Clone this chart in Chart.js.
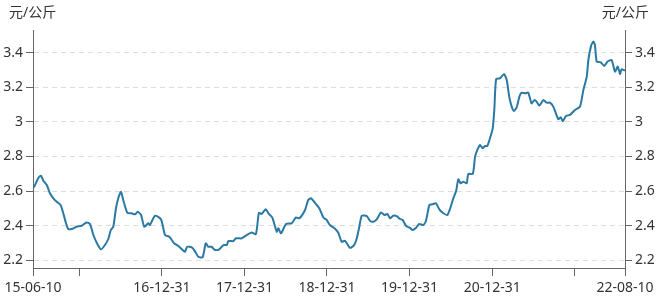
<!DOCTYPE html>
<html>
<head>
<meta charset="utf-8">
<script src="https://cdn.jsdelivr.net/npm/chart.js@4"></script>
<style>
  html, body { margin: 0; padding: 0; background: #fff; }
  #wrap { position: relative; width: 666px; height: 302px; }
</style>
</head>
<body>
<div id="wrap"><canvas id="chart"></canvas></div>
<script>
const UNIT = "元/公斤";
const LINE_COLOR = "#2b79a3";
const FONT = '"Noto Sans", "Noto Sans CJK SC", sans-serif';

// days since 2015-06-10
const dayOffsets = [
  0, 9, 23, 35, 46, 61, 75, 90, 105, 122, 134, 146, 156, 171, 193, 215, 237, 252, 267, 282,
  301, 318, 333, 344, 355, 367, 377, 389, 399, 417, 436, 451, 463, 478, 492, 510, 517, 540, 566, 584,
  603, 624, 643, 665, 672, 682, 702, 716, 731, 750, 764, 775, 790, 805, 824, 842, 857, 864, 886, 898,
  923, 945, 967, 986, 999, 1011, 1029, 1041, 1058, 1078, 1085, 1097, 1119, 1144, 1163, 1178, 1203, 1217, 1229, 1247,
  1266, 1284, 1299, 1313, 1331, 1350, 1365, 1380, 1402, 1420, 1432, 1443, 1454, 1476, 1490, 1505, 1520, 1539, 1554, 1567,
  1579, 1593, 1608, 1623, 1635, 1649, 1667, 1679, 1694, 1708, 1726, 1738, 1753, 1770, 1782, 1797, 1812, 1832, 1844, 1859,
  1871, 1881, 1891, 1903, 1918, 1925, 1945, 1955, 1965, 1977, 1988, 1999, 2009, 2021, 2033, 2040, 2048, 2065, 2083, 2095,
  2106, 2117, 2127, 2139, 2151, 2161, 2176, 2190, 2205, 2217, 2227, 2239, 2257, 2272, 2286, 2301, 2323, 2334, 2343, 2357,
  2375, 2397, 2419, 2434, 2449, 2456, 2468, 2478, 2485, 2493, 2511, 2526, 2541, 2559, 2574, 2586, 2596, 2603, 2614, 2618,
];

const prices = [
  2.616, 2.635, 2.674, 2.689, 2.66, 2.635, 2.587, 2.558, 2.538, 2.519, 2.471, 2.413, 2.38, 2.38, 2.393, 2.399, 2.418, 2.409, 2.345, 2.30,
  2.262, 2.287, 2.322, 2.374, 2.393, 2.50, 2.558, 2.596, 2.548, 2.474, 2.471, 2.465, 2.48, 2.461, 2.393, 2.413, 2.403, 2.457, 2.436, 2.345,
  2.335, 2.297, 2.281, 2.254, 2.248, 2.277, 2.274, 2.252, 2.219, 2.216, 2.297, 2.277, 2.277, 2.258, 2.262, 2.287, 2.287, 2.31, 2.31, 2.326,
  2.326, 2.345, 2.36, 2.351, 2.474, 2.467, 2.494, 2.471, 2.447, 2.364, 2.384, 2.355, 2.409, 2.413, 2.447, 2.442, 2.49, 2.548, 2.558, 2.532,
  2.50, 2.447, 2.432, 2.403, 2.387, 2.358, 2.306, 2.312, 2.271, 2.287, 2.326, 2.393, 2.457, 2.455, 2.428, 2.422, 2.436, 2.476, 2.461, 2.467,
  2.442, 2.457, 2.455, 2.438, 2.432, 2.399, 2.387, 2.374, 2.387, 2.409, 2.403, 2.428, 2.519, 2.525, 2.529, 2.494, 2.474, 2.461, 2.496, 2.558,
  2.60, 2.668, 2.645, 2.654, 2.645, 2.699, 2.699, 2.799, 2.838, 2.867, 2.848, 2.861, 2.861, 2.906, 2.963, 3.07, 3.248, 3.253, 3.278, 3.243,
  3.147, 3.089, 3.064, 3.085, 3.147, 3.17, 3.166, 3.17, 3.108, 3.127, 3.118, 3.095, 3.127, 3.112, 3.112, 3.089, 3.016, 3.027, 3.004, 3.035,
  3.041, 3.07, 3.089, 3.186, 3.263, 3.359, 3.441, 3.466, 3.446, 3.35, 3.346, 3.325, 3.35, 3.359, 3.292, 3.321, 3.278, 3.305, 3.30, 3.30,
];

// x ticks: 15-06-10, then year ends, then last date (two labels hidden as in the original)
const tickDays = [0, 204, 570, 935, 1300, 1665, 2031, 2396, 2618];
const tickLabels = ["15-06-10", "", "16-12-31", "17-12-31", "18-12-31", "19-12-31", "20-12-31", "", "22-08-10"];
const yTicks = [2.2, 2.4, 2.6, 2.8, 3, 3.2, 3.4];

const Y_MIN = 2.154;
const Y_MAX = 3.533;

// unit text above both y axes
const unitLabels = {
  id: "unitLabels",
  afterDraw(chart) {
    const ctx = chart.ctx;
    ctx.save();
    ctx.font = `14px ${FONT}`;
    ctx.fillStyle = "#333";
    ctx.textBaseline = "middle";
    ctx.textAlign = "left";
    ctx.fillText(UNIT, 9, 13);
    ctx.textAlign = "right";
    ctx.fillText(UNIT, 649, 13);
    ctx.restore();
  },
};

function yAxis(position, width, onArea) {
  return {
    position,
    min: Y_MIN,
    max: Y_MAX,
    afterBuildTicks: (s) => {
      s.ticks = yTicks.map((v) => ({ value: v }));
    },
    afterFit: (s) => {
      s.width = width;
    },
    ticks: {
      color: "#333",
      font: { family: FONT, size: 14 },
      padding: 3,
      callback: (v) => String(v),
    },
    grid: {
      drawOnChartArea: onArea,
      color: "#dcdcdc",
      tickLength: 7,
      tickColor: "#666",
    },
    border: { color: "#666", width: 1, dash: [5, 4] },
  };
}

new Chart(document.getElementById("chart"), {
  type: "line",
  data: {
    datasets: [
      {
        data: dayOffsets.map((d, i) => ({ x: d, y: prices[i] })),
        borderColor: LINE_COLOR,
        borderWidth: 2,
        pointRadius: 0,
        tension: 0.2,
        yAxisID: "y",
      },
    ],
  },
  options: {
    responsive: true,
    maintainAspectRatio: false,
    animation: false,
    layout: { padding: { top: 30, left: 0, right: 0, bottom: 0 } },
    plugins: {
      legend: { display: false },
      tooltip: { enabled: false },
    },
    scales: {
      x: {
        type: "linear",
        min: 0,
        max: 2618,
        afterBuildTicks: (s) => {
          s.ticks = tickDays.map((v) => ({ value: v }));
        },
        afterFit: (s) => {
          s.height = 34;
        },
        ticks: {
          autoSkip: false,
          maxRotation: 0,
          padding: 4,
          color: "#333",
          font: { family: FONT, size: 14 },
          callback: (v, i) => tickLabels[i],
        },
        grid: { drawOnChartArea: false, tickLength: 8, tickColor: "#666" },
        border: { color: "#666", width: 1 },
      },
      y: yAxis("left", 33, true),
      y1: yAxis("right", 41, false),
    },
  },
  plugins: [unitLabels],
});
</script>
</body>
</html>
